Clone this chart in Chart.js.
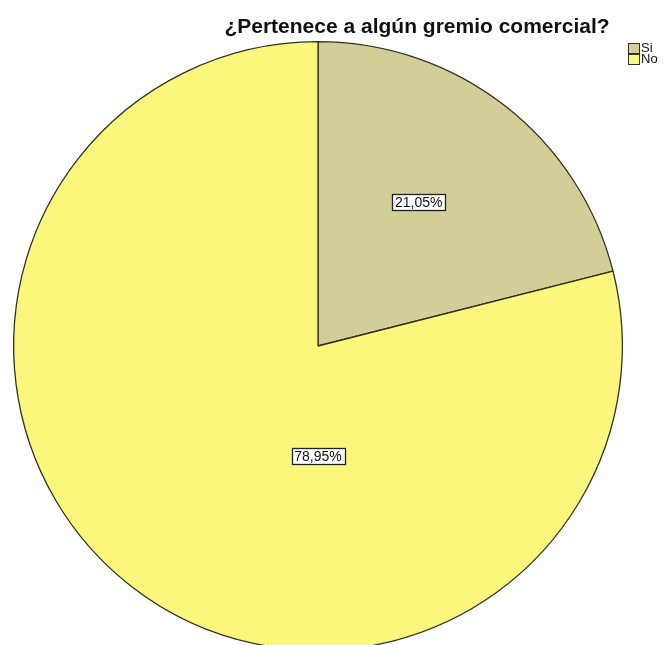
<!DOCTYPE html>
<html>
<head>
<meta charset="utf-8">
<script src="https://cdn.jsdelivr.net/npm/chart.js@4"></script>
<style>
  html, body { margin: 0; padding: 0; background: #fff; overflow: hidden; }
  #wrap { width: 664px; height: 660px; position: relative; }
</style>
</head>
<body>
<div id="wrap"><canvas id="chart"></canvas></div>
<script>
const titleText = "¿Pertenece a algún gremio comercial?";
const categories = ["Si", "No"];
const percents = [21.05, 78.95];
const sliceColors = ["#d3ce98", "#fbf77c"];
// where each label box sits, as a fraction of the radius from the centre
const labelSpots = [[0.331, -0.472], [0.0, 0.361]];

const fmt = v => v.toFixed(2).replace(".", ",") + "%";

const decorations = {
  id: "decorations",
  afterDatasetsDraw(chart) {
    const ctx = chart.ctx;
    const arcs = chart.getDatasetMeta(0).data;
    ctx.save();

    // percent labels in boxes
    ctx.font = "14px 'Liberation Sans', Arial, sans-serif";
    ctx.textAlign = "center";
    ctx.textBaseline = "middle";
    arcs.forEach((arc, i) => {
      const { x, y, outerRadius } = arc.getProps(["x", "y", "outerRadius"], true);
      const lx = x + labelSpots[i][0] * outerRadius;
      const ly = y + labelSpots[i][1] * outerRadius;
      const txt = fmt(percents[i]);
      const w = Math.round(ctx.measureText(txt).width + 6);
      const h = 16;
      const bx = Math.round(lx - w / 2) + 0.5, by = Math.round(ly - h / 2) + 0.5;
      ctx.fillStyle = "#fff";
      ctx.fillRect(bx, by, w, h);
      ctx.strokeStyle = "#222";
      ctx.lineWidth = 1.3;
      ctx.strokeRect(bx, by, w, h);
      ctx.fillStyle = "#111";
      ctx.fillText(txt, lx, ly + 1);
    });

    // title
    ctx.font = "bold 21px 'Liberation Sans', Arial, sans-serif";
    ctx.fillStyle = "#111";
    ctx.textBaseline = "alphabetic";
    ctx.fillText(titleText, 417, 33);

    // legend
    ctx.font = "13px 'Liberation Sans', Arial, sans-serif";
    ctx.textAlign = "left";
    ctx.textBaseline = "middle";
    ctx.lineWidth = 1;
    categories.forEach((c, i) => {
      const by = 43 + i * 11;
      ctx.fillStyle = sliceColors[i];
      ctx.fillRect(628.5, by + 0.5, 11, 10);
      ctx.strokeStyle = "#333";
      ctx.strokeRect(628.5, by + 0.5, 11, 10);
      ctx.fillStyle = "#111";
      ctx.fillText(c, 641, by + 5.5);
    });
    ctx.restore();
  }
};

new Chart(document.getElementById("chart"), {
  type: "pie",
  data: {
    labels: categories,
    datasets: [{
      data: percents,
      backgroundColor: sliceColors,
      borderColor: "#33321f",
      borderWidth: 1.3
    }]
  },
  options: {
    responsive: true,
    maintainAspectRatio: false,
    animation: false,
    layout: { padding: { top: 41, bottom: 9, left: 13, right: 41 } },
    plugins: {
      legend: { display: false },
      tooltip: { enabled: false },
      title: { display: false }
    }
  },
  plugins: [decorations]
});
</script>
</body>
</html>
